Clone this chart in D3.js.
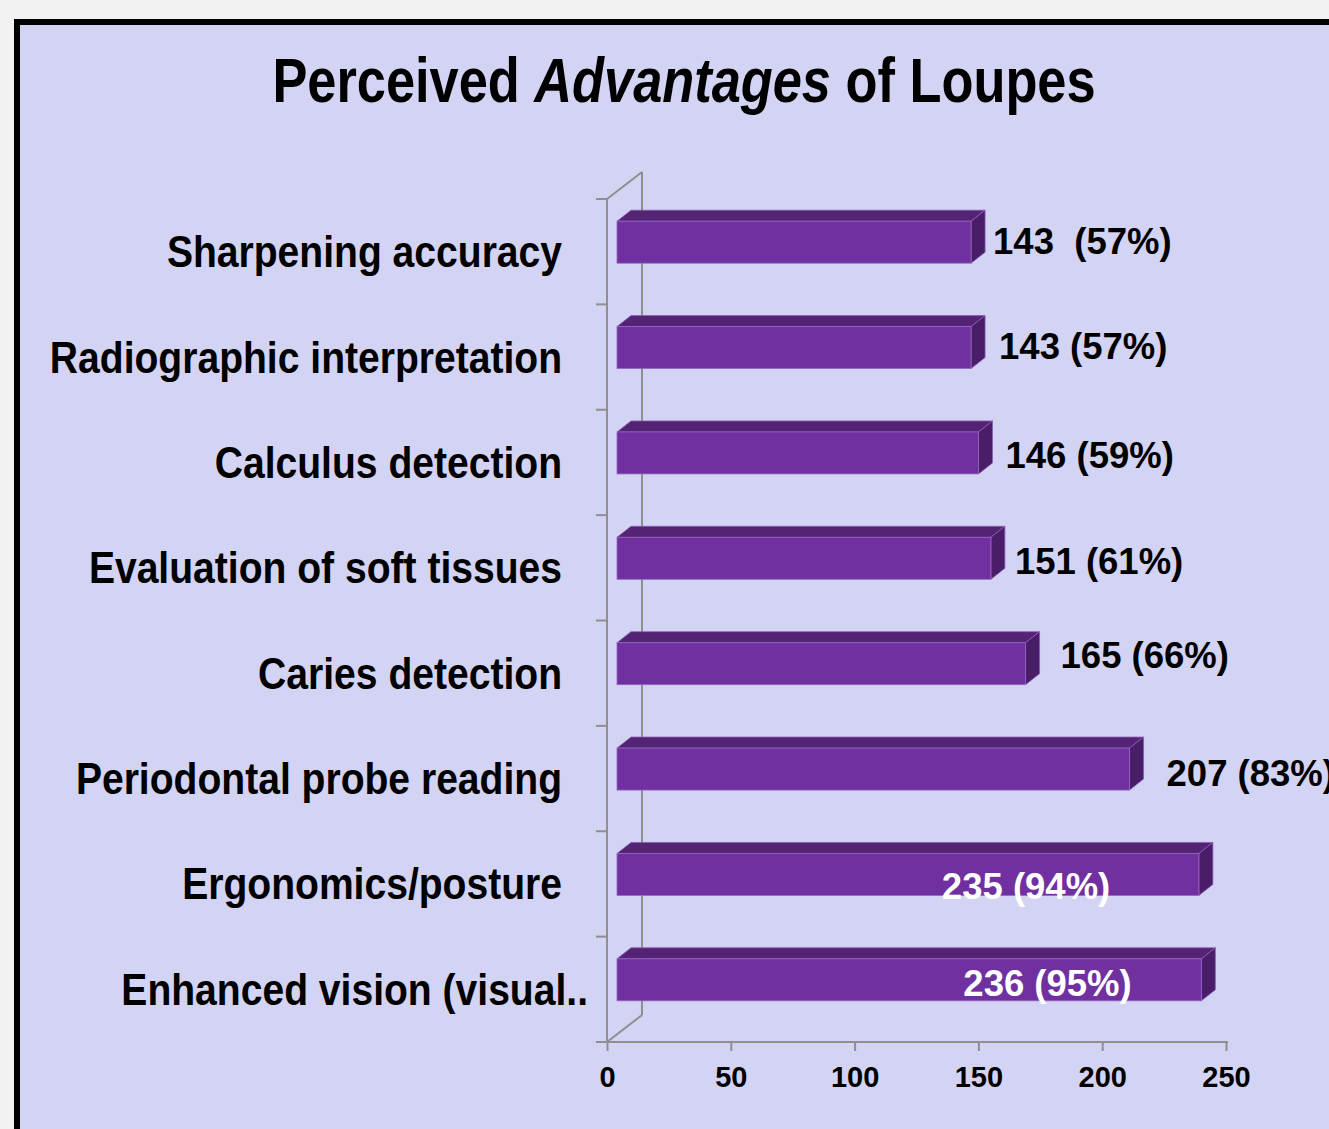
<!DOCTYPE html>
<html><head><meta charset="utf-8">
<script src="https://cdn.jsdelivr.net/npm/d3@7"></script>
<style>
html,body{margin:0;padding:0;background:#f2f2f2;overflow:hidden;}
svg{display:block;}
</style></head>
<body>
<script>
// ---- data ----
const categories = [
  "Sharpening accuracy",
  "Radiographic interpretation",
  "Calculus detection",
  "Evaluation of soft tissues",
  "Caries detection",
  "Periodontal probe reading",
  "Ergonomics/posture",
  "Enhanced vision (visual.."
];
const counts = [143, 143, 146, 151, 165, 207, 235, 236];
const valueLabels = ["143  (57%)", "143 (57%)", "146 (59%)", "151 (61%)", "165 (66%)", "207 (83%)", "235 (94%)", "236 (95%)"];
const xTicks = [0, 50, 100, 150, 200, 250];

// ---- layout (not data) ----
const labelInside = [false, false, false, false, false, false, true, true];
const labelDx = [8, 14, 13, 10, 21, 23, -271, -252];
const labelDy = [-1, -1, 3, 3, -8, 4, 12, 4];
const catLabelX = [562, 562, 562, 562, 562, 562, 562, 588];
const TITLE_NARROW = 0.831, CAT_NARROW = 0.888;

const W = 1329, H = 1129;
const svg = d3.select("body").append("svg").attr("width", W).attr("height", H);

svg.append("rect").attr("x", 0).attr("y", 0).attr("width", W).attr("height", H).attr("fill", "#f2f2f2");
svg.append("rect").attr("x", 17).attr("y", 22).attr("width", 1500).attr("height", 1500)
  .attr("fill", "#d3d3f3").attr("stroke", "#000").attr("stroke-width", 6);

const sans = "'Liberation Sans',Arial,sans-serif";

// title (Arial Narrow look: horizontally condensed Liberation Sans Bold)
const title = svg.append("text").attr("transform", `translate(684,102) scale(${TITLE_NARROW},1)`).attr("text-anchor", "middle")
  .attr("font-family", sans).attr("font-weight", "bold").attr("font-size", 63).attr("fill", "#000");
title.append("tspan").text("Perceived ");
title.append("tspan").attr("font-style", "italic").text("Advantages");
title.append("tspan").text(" of Loupes");

// scales
const x = d3.scaleLinear().domain([0, 250]).range([607, 1226]);
const y = d3.scaleBand().domain(categories).range([199, 1042]).paddingInner(0).paddingOuter(0);

const depthX = 35, depthY = 27;
const gray = "#8f8f8f";

// back wall / 3D frame
const frame = svg.append("g").attr("stroke", gray).attr("stroke-width", 2).attr("fill", "none");
frame.append("line").attr("x1", x(0) + depthX).attr("x2", x(0) + depthX).attr("y1", y.range()[0] - depthY).attr("y2", y.range()[1] - depthY);
frame.append("line").attr("x1", x(0)).attr("x2", x(0) + depthX).attr("y1", y.range()[0]).attr("y2", y.range()[0] - depthY);
frame.append("line").attr("x1", x(0)).attr("x2", x(0) + depthX).attr("y1", y.range()[1]).attr("y2", y.range()[1] - depthY);

// left category axis
const yAxisG = svg.append("g").attr("transform", `translate(${x(0)},0)`);
yAxisG.append("line").attr("x1", 0).attr("x2", 0).attr("y1", y.range()[0]).attr("y2", y.range()[1]).attr("stroke", gray).attr("stroke-width", 2);
const bounds = categories.map(c => y(c)).concat([y.range()[1]]);
yAxisG.selectAll("line.tk").data(bounds).join("line").attr("class", "tk")
  .attr("x1", -11).attr("x2", 0).attr("y1", d => d).attr("y2", d => d).attr("stroke", gray).attr("stroke-width", 2);

// bottom value axis
const xAxis = d3.axisBottom(x).tickValues(xTicks).tickSize(9).tickPadding(15).tickFormat(d3.format("d"));
const xg = svg.append("g").attr("transform", `translate(0,${y.range()[1]})`).call(xAxis);
xg.select(".domain").attr("stroke", gray).attr("stroke-width", 2).attr("d", `M${x(0) - 10},0H${x(250) + 2}`);
xg.selectAll(".tick line").attr("stroke", gray).attr("stroke-width", 2);
xg.selectAll(".tick text").attr("font-family", sans).attr("font-weight", "bold").attr("font-size", 29).attr("fill", "#000").attr("dy", "0.71em");

// category labels
svg.append("g").selectAll("text").data(categories).join("text")
  .attr("transform", (d, i) => `translate(${catLabelX[i]},${y(d) + y.bandwidth() / 2 + 15.5}) scale(${CAT_NARROW},1)`)
  .attr("text-anchor", "end").attr("font-family", sans).attr("font-weight", "bold").attr("font-size", 44).attr("fill", "#000")
  .text(d => d);

// 3D bars
const barH = 42, offX = 10, offY = -9.5, dX = 14, dY = -11;
const bars = svg.append("g").selectAll("g").data(categories).join("g");
bars.each(function (c, i) {
  const g = d3.select(this);
  const x0 = x(0) + offX, x1 = x(counts[i]) + offX;
  const yc = y(c) + y.bandwidth() / 2 + offY;
  const t = yc - barH / 2, b = yc + barH / 2;
  g.append("path").attr("d", `M${x0},${t}L${x0 + dX},${t + dY}L${x1 + dX},${t + dY}L${x1},${t}Z`)
    .attr("fill", "#542373").attr("stroke", "#8a5cb8").attr("stroke-width", 0.8);
  g.append("path").attr("d", `M${x1},${t}L${x1 + dX},${t + dY}L${x1 + dX},${b + dY}L${x1},${b}Z`)
    .attr("fill", "#4a1d68").attr("stroke", "#8a5cb8").attr("stroke-width", 0.8);
  g.append("rect").attr("x", x0).attr("y", t).attr("width", x1 - x0).attr("height", barH)
    .attr("fill", "#7030a0").attr("stroke", "#9466c4").attr("stroke-width", 0.8);
});

// value labels
svg.append("g").selectAll("text").data(categories).join("text")
  .attr("x", (c, i) => x(counts[i]) + offX + dX + labelDx[i])
  .attr("y", (c, i) => y(c) + y.bandwidth() / 2 + offY + 12.5 + labelDy[i])
  .attr("font-family", sans).attr("font-weight", "bold").attr("font-size", 36.5)
  .attr("fill", (c, i) => labelInside[i] ? "#fff" : "#000")
  .style("white-space", "pre").attr("xml:space", "preserve")
  .text((c, i) => valueLabels[i]);
</script>
</body></html>
